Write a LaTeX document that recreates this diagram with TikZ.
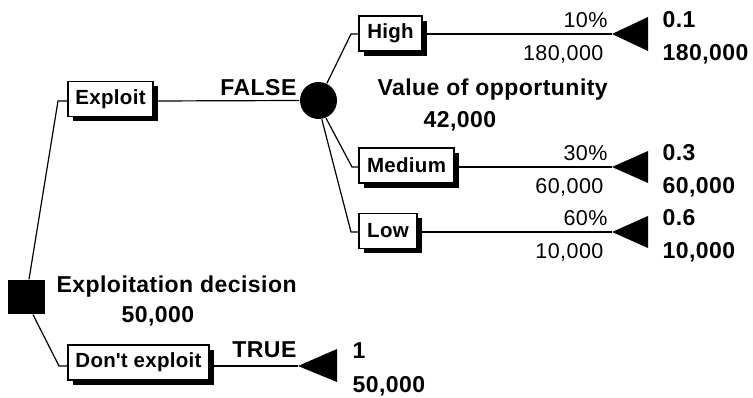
\documentclass[tikz,border=0pt]{standalone}
\usepackage{fontspec}
\setmainfont{Liberation Sans}
\newfontfamily\lblfont{Liberation Sans}[LetterSpace=2]
\newfontfamily\boxfont{Liberation Sans}[LetterSpace=1.5]
\usetikzlibrary{shadows}
\begin{document}
\begin{tikzpicture}[x=1pt,y=-1pt,line width=1.2pt,
  branchbox/.style={draw, line width=1.2pt, fill=white, inner sep=0pt,
    minimum height=35pt,
    font=\boxfont\bfseries\fontsize{20.5}{24}\selectfont,
    drop shadow={shadow xshift=5pt, shadow yshift=-5pt, opacity=1, fill=black}},
  lbl/.style={font=\lblfont\bfseries\fontsize{23}{26}\selectfont, inner sep=0pt},
  num/.style={font=\lblfont\fontsize{21.5}{25}\selectfont, inner sep=0pt},
  endtri/.style={fill=black}]
\fill[white] (0,0) rectangle (753,398);
\useasboundingbox (0,0) rectangle (753,398);

% decision and chance nodes
\node[fill=black, minimum width=37pt, minimum height=34pt, inner sep=0pt] (dec) at (26.5,297) {};
\node[circle, fill=black, minimum size=37pt, inner sep=0pt] (ch) at (318.5,100.5) {};

% branch boxes
\node[branchbox, minimum width=85pt] (ex) at (110.5,99) {Exploit};
\node[branchbox, minimum width=141pt] (dx) at (138.5,362.5) {Don\textquotesingle t exploit};
\node[branchbox, minimum width=63pt] (hi) at (390.5,33.5) {High};
\node[branchbox, minimum width=95pt] (me) at (406.5,165.5) {Medium};
\node[branchbox, minimum width=58pt] (lo) at (388,231) {Low};

% elbows and terminal tips
\coordinate (kEx) at (58,101);
\coordinate (kDx) at (59,366);
\coordinate (kHi) at (351,34);
\coordinate (kMe) at (352,167);
\coordinate (kLo) at (351,232);
\coordinate (tHi) at (612,34);
\coordinate (tMe) at (612,167);
\coordinate (tLo) at (612,232);
\coordinate (tDx) at (298,366);

% decision branches
\draw ([xshift=2.5pt]dec.north) -- (kEx) -- (kEx -| ex.west);
\draw ([xshift=6.5pt]dec.south) -- (kDx) -- (kDx -| dx.west);
\draw (ex.east |- kEx) -- (ch.west);
\draw (dx.east |- kDx) -- (tDx);

% chance branches
\draw (ch.64) -- (kHi) -- (kHi -| hi.west);
\draw (ch.-67) -- (kMe) -- (kMe -| me.west);
\draw (ch.-80) -- (kLo) -- (kLo -| lo.west);
\draw (hi.east |- kHi) -- (tHi);
\draw (me.east |- kMe) -- (tMe);
\draw (lo.east |- kLo) -- (tLo);

% terminal triangles
\fill[endtri] (tHi) -- ++(36,-17) -- ++(0,34) -- cycle;
\fill[endtri] (tMe) -- ++(36,-16) -- ++(0,32) -- cycle;
\fill[endtri] (tLo) -- ++(36,-16) -- ++(0,32) -- cycle;
\fill[endtri] (tDx) -- ++(39,-17) -- ++(0,33) -- cycle;

% node labels
\node[lbl, anchor=base east] (fl) at (297,96) {FALSE};
\node[lbl, anchor=base east] (tr) at (297,358) {TRUE};
\node[lbl, anchor=base west] (vo) at (377,95.5) {Value of opportunity};
\node[lbl, anchor=base west] (vov) at (423,128) {42,000};
\node[lbl, anchor=base west] (ed) at (56,293) {Exploitation decision};
\node[lbl, anchor=base west] (edv) at (121,323) {50,000};

% probabilities and payoffs on the branches
\node[num, anchor=base east] (p1) at (608,28) {10\%};
\node[num, anchor=base east] (v1) at (604,61) {180,000};
\node[num, anchor=base east] (p2) at (608,161) {30\%};
\node[num, anchor=base east] (v2) at (604,194) {60,000};
\node[num, anchor=base east] (p3) at (608,226) {60\%};
\node[num, anchor=base east] (v3) at (604,259) {10,000};

% terminal results
\node[lbl, anchor=base west] (r1a) at (662,28) {0.1};
\node[lbl, anchor=base west] (r1b) at (662,61) {180,000};
\node[lbl, anchor=base west] (r2a) at (662,161) {0.3};
\node[lbl, anchor=base west] (r2b) at (662,194) {60,000};
\node[lbl, anchor=base west] (r3a) at (662,226) {0.6};
\node[lbl, anchor=base west] (r3b) at (662,259) {10,000};
\node[lbl, anchor=base west] (r4a) at (352,359) {1};
\node[lbl, anchor=base west] (r4b) at (352,392) {50,000};
\end{tikzpicture}
\end{document}
